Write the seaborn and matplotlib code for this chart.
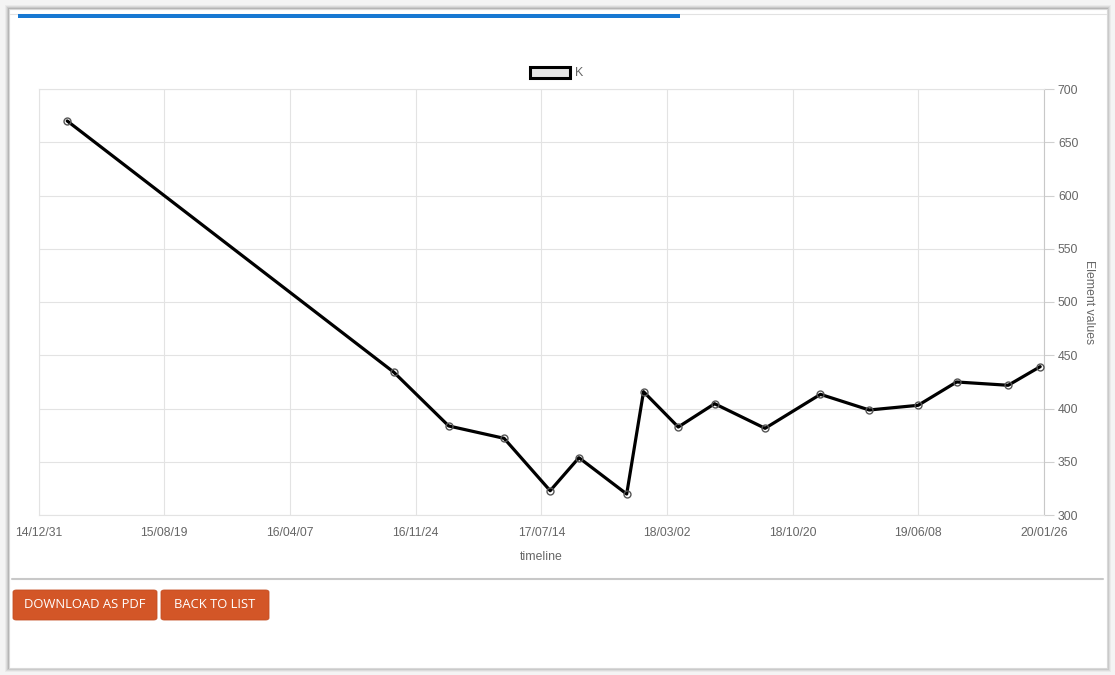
import pandas as pd
import numpy as np
import seaborn as sns
import matplotlib.pyplot as plt
from matplotlib.patches import Rectangle, FancyBboxPatch, Patch

# data (dates yy/mm/dd, values of K)
dates = ['2015-02-21', '2016-10-15', '2017-01-24', '2017-05-06', '2017-07-30',
         '2017-09-21', '2017-12-18', '2018-01-18', '2018-03-23', '2018-05-29',
         '2018-08-30', '2018-12-10', '2019-03-10', '2019-06-08', '2019-08-18',
         '2019-11-21', '2020-01-19']
k_values = [670, 434, 383.6, 372, 322.8, 353.8, 319.7, 415.8, 382.6, 404.5,
            381.4, 413.3, 398.6, 403, 424.9, 421.8, 439.3]
x_ticklabels = ['14/12/31', '15/08/19', '16/04/07', '16/11/24', '17/07/14',
                '18/03/02', '18/10/20', '19/06/08', '20/01/26']
y_ticks = [300, 350, 400, 450, 500, 550, 600, 650, 700]

df = pd.DataFrame({'date': pd.to_datetime(dates), 'K': k_values})
tick_dates = pd.to_datetime(x_ticklabels, format='%y/%m/%d')

sns.set_style('white')
plt.rcParams['font.family'] = ['Liberation Sans', 'DejaVu Sans']

W, H = 1115, 675
fig = plt.figure(figsize=(W / 100, H / 100), dpi=100)
fig.patch.set_facecolor('#f4f4f4')

# card with a soft shadow
for i, a in enumerate([0.04, 0.06, 0.08, 0.11]):
    d = 4 - i
    fig.patches.append(Rectangle(((9 - d) / W, 1 - (668 + d) / H), (1098 + 2 * d) / W, (659 + 2 * d) / H,
                                 transform=fig.transFigure, facecolor='#000000', alpha=a,
                                 edgecolor='none', zorder=0))
fig.patches.append(Rectangle((9 / W, 1 - 668 / H), 1098 / W, 659 / H, transform=fig.transFigure,
                             facecolor='white', edgecolor='#d8d8d8', linewidth=0.8, zorder=1))
# thin top rule and blue progress bar
fig.add_artist(plt.Line2D([10 / W, 1106 / W], [1 - 14 / H] * 2, color='#e2e2e2', lw=0.8, zorder=2))
fig.patches.append(Rectangle((18 / W, 1 - 17.5 / H), 662 / W, 3.5 / H, transform=fig.transFigure,
                             facecolor='#1778d2', edgecolor='none', zorder=3))
# separator above buttons
fig.add_artist(plt.Line2D([12 / W, 1103 / W], [1 - 578.5 / H] * 2, color='#c8c8c8', lw=1.5, zorder=2))

# buttons
for x0, x1, txt in [(13, 157, 'DOWNLOAD AS PDF'), (161, 269, 'BACK TO LIST')]:
    fig.patches.append(FancyBboxPatch((x0 / W, 1 - 620 / H), (x1 - x0) / W, 30 / H,
                                      boxstyle='round,pad=0,rounding_size=0.003',
                                      transform=fig.transFigure, facecolor='#d35627',
                                      edgecolor='#c44e22', linewidth=0.6, zorder=3))
    fig.text((x0 + x1) / 2 / W, 1 - 605 / H, txt, color='white', fontsize=9.4,
             family='Open Sans', ha='center', va='center', zorder=4)

ax = fig.add_axes([39 / W, 1 - 515 / H, 1005 / W, 426 / H])
ax.set_zorder(5)
ax.set_facecolor('white')

sns.lineplot(data=df, x='date', y='K', ax=ax, color='black', linewidth=2.3,
             marker='o', markersize=5, markerfacecolor='none', markeredgecolor='#555555',
             markeredgewidth=1.0, zorder=5)

ax.set_xlim(tick_dates[0], tick_dates[-1])
ax.set_ylim(300, 700)
ax.set_xticks(tick_dates)
ax.set_xticklabels(x_ticklabels)
ax.set_yticks(y_ticks)
ax.yaxis.tick_right()
ax.yaxis.set_label_position('right')
ax.grid(True, color='#e3e3e3', linewidth=0.8)
ax.tick_params(axis='x', length=0, pad=9, labelsize=8.8, labelcolor='#666666')
ax.tick_params(axis='y', length=7, width=0.8, color='#d0d0d0', pad=3, labelsize=8.8,
               labelcolor='#666666', right=True, left=False)
for s in ['left', 'top', 'bottom']:
    ax.spines[s].set_color('#e3e3e3')
    ax.spines[s].set_linewidth(0.8)
ax.spines['right'].set_color('#c8c8c8')
ax.spines['right'].set_linewidth(0.8)

ax.set_xlabel('timeline', fontsize=8.8, color='#666666', labelpad=8)
ax.set_ylabel('Element values', fontsize=8.8, color='#666666', rotation=-90, labelpad=12)

handle = Patch(facecolor='#e6e6e6', edgecolor='black', linewidth=2.2)
leg = fig.legend([handle], ['K'], loc='center', bbox_to_anchor=(557 / W, 1 - 73 / H), frameon=False,
                 handlelength=3.2, handleheight=1.0, handletextpad=0.4, fontsize=9,
                 labelcolor='#666666')
leg.set_zorder(6)

fig.savefig('out.png', dpi=100, facecolor=fig.get_facecolor())
